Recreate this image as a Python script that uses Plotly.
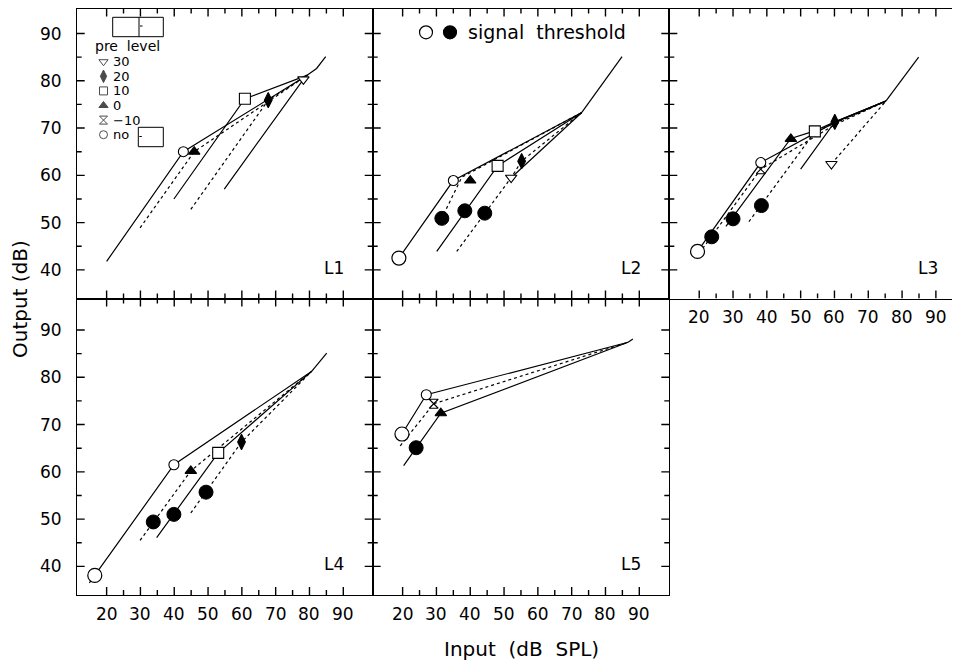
import plotly.graph_objects as go

W, H = 960, 664
OFF = 8.0   # the page body adds an 8 px margin; layout pixels below are screen pixels

# ---------------- data ----------------
PANELS = ["L1", "L2", "L3", "L4", "L5"]
PRE_ORDER = ["no", "-10", "0", "10", "20", "30"]          # order used for line styles
LEGEND_LEVELS = ["30", "20", "10", "0", "-10", "no"]      # legend order
X_TICKS = [20, 30, 40, 50, 60, 70, 80, 90]
X_MINOR = [25, 35, 45, 55, 65, 75, 85]
Y_TICKS = [40, 50, 60, 70, 80, 90]
Y_MINOR = [45, 55, 65, 75, 85]

# model input/output curves: pre level -> (input dB SPL, output dB)
L1_curves = {
    "no": ([20.0, 42.7, 79.4], [41.8, 65.0, 81.2]),
    "0":  ([29.9, 45.9, 79.4], [48.9, 65.0, 81.2]),
    "10": ([39.9, 60.9, 79.4], [55.0, 76.2, 81.2]),
    "20": ([44.9, 67.8, 79.4], [52.8, 75.9, 81.2]),
    "30": ([54.8, 78.2, 79.4], [57.1, 80.3, 81.2]),
}
L1_tail = ([79.4, 82.1, 84.8], [81.2, 82.6, 85.1])
L1_points = {"no": (42.7, 65.0), "0": (45.9, 65.0), "10": (60.9, 76.2),
             "20": (67.8, 75.9), "30": (78.2, 80.3)}
L1_thr_open = ([], [])
L1_thr_filled = ([], [])

L2_curves = {
    "no": ([18.9, 35.0, 73.0], [42.5, 58.9, 73.3]),
    "0":  ([30.6, 37.5, 73.0], [49.5, 59.6, 73.3]),
    "10": ([30.1, 48.1, 73.0], [43.9, 62.0, 73.3]),
    "20": ([36.0, 52.1, 55.2, 73.0], [43.9, 59.5, 63.0, 73.3]),
    "30": ([52.1, 73.0], [59.5, 73.3]),
}
L2_tail = ([73.0, 84.9], [73.3, 85.1])
L2_points = {"no": (35.0, 58.9), "0": (40.0, 58.9), "10": (48.1, 62.0),
             "20": (55.2, 63.0), "30": (52.1, 59.5)}
L2_thr_open = ([18.9], [42.5])
L2_thr_filled = ([31.6, 38.4, 44.3], [50.9, 52.5, 52.0])

L3_curves = {
    "no":  ([19.5, 38.2, 60.1, 75.2], [43.9, 62.7, 71.2, 75.7]),
    "-10": ([21.0, 38.2, 60.1, 75.2], [44.5, 61.3, 70.7, 75.7]),
    "0":   ([27.9, 47.1, 54.2, 60.1, 75.2], [49.2, 67.8, 69.4, 71.3, 75.7]),
    "10":  ([34.7, 54.2, 75.2], [50.2, 69.2, 75.7]),
    "20":  ([50.0, 60.1, 75.2], [61.3, 71.3, 75.7]),
    "30":  ([59.1, 75.2], [62.4, 75.7]),
}
L3_tail = ([75.2, 84.9], [75.7, 85.0])
L3_points = {"no": (38.2, 62.7), "-10": (38.2, 61.3), "0": (47.1, 67.7),
             "10": (54.2, 69.3), "20": (60.1, 71.3), "30": (59.1, 62.4)}
L3_thr_open = ([19.5], [43.9])
L3_thr_filled = ([23.7, 30.0, 38.4], [47.0, 50.8, 53.6])

L4_curves = {
    "no": ([14.9, 39.9, 80.7], [36.5, 61.5, 81.3]),
    "0":  ([29.9, 44.9, 80.7], [45.5, 60.2, 81.3]),
    "10": ([34.8, 53.0, 80.7], [46.1, 64.0, 81.3]),
    "20": ([44.9, 59.9, 80.7], [51.3, 66.3, 81.3]),
}
L4_tail = ([80.7, 81.6, 85.1], [81.3, 82.1, 85.1])
L4_points = {"no": (39.9, 61.5), "0": (44.9, 60.2), "10": (53.0, 64.0),
             "20": (59.9, 66.3)}
L4_thr_open = ([16.5], [38.1])
L4_thr_filled = ([33.8, 39.9, 49.4], [49.4, 51.0, 55.7])

L5_curves = {
    "no":  ([19.8, 27.0, 86.7], [68.0, 76.3, 87.4]),
    "-10": ([19.3, 29.2, 86.7], [65.5, 74.4, 87.4]),
    "0":   ([20.3, 31.3, 86.7], [61.3, 72.4, 87.4]),
}
L5_tail = ([86.7, 88.1], [87.4, 88.1])
L5_points = {"no": (27.0, 76.3), "-10": (29.2, 74.4), "0": (31.3, 72.4)}
L5_thr_open = ([19.8], [68.0])
L5_thr_filled = ([24.0], [65.1])

# ---------------- styling / layout ----------------
FONT = "DejaVu Sans"
SYMBOL = {"30": "triangle-down", "20": "diamond-tall", "10": "square",
          "0": "triangle-up", "-10": "hourglass", "no": "circle"}
FILLED = {"30": False, "20": True, "10": False, "0": True, "-10": False, "no": False}
MSIZE = {"30": 10, "20": 11, "10": 11, "0": 10, "-10": 9, "no": 10}
DASH = "3px,3px"

# panel frames in screen pixels
XD = [(76.7, 372.7), (372.7, 669.3), (669.3, 960.0), (76.7, 372.7), (372.7, 669.3)]
YD = [(8.5, 298.5), (8.5, 298.5), (8.5, 298.5), (298.5, 595.0), (298.5, 595.0)]
PX_PER_X = 3.381
PX_PER_Y = 4.728
X0 = 11.15
Y0 = 33.95
MAJOR_LEN, MINOR_LEN, TICK_W = 8.0, 5.0, 1.4
X_LABEL_PANELS = (2, 3, 4)
Y_LABEL_PANELS = (0, 3)
Y_LABEL_RIGHT = 64.0          # screen x of the right edge of y tick labels
X_LABEL_GAP = 18.8            # screen px from panel bottom to x tick label centre


def fx(p):  # screen x pixel -> paper fraction
    return (p - OFF) / W


def fy(p):  # screen y pixel -> paper fraction (from bottom)
    return 1 - (p - OFF) / H


def px2x(panel, p):  # screen x pixel -> data x in a panel
    return X0 + (p - XD[panel][0]) / PX_PER_X


def py2y(panel, p):  # screen y pixel -> data y in a panel
    return Y0 + (YD[panel][1] - p) / PX_PER_Y


panel_data = [
    (L1_curves, L1_tail, L1_points, L1_thr_open, L1_thr_filled),
    (L2_curves, L2_tail, L2_points, L2_thr_open, L2_thr_filled),
    (L3_curves, L3_tail, L3_points, L3_thr_open, L3_thr_filled),
    (L4_curves, L4_tail, L4_points, L4_thr_open, L4_thr_filled),
    (L5_curves, L5_tail, L5_points, L5_thr_open, L5_thr_filled),
]

fig = go.Figure()
line_w = 1.2
annotations = []
shapes = []
layout_axes = {}
lab_font = dict(family=FONT, size=17, color="black")

for i in range(5):
    x0, x1 = XD[i]
    y0, y1 = YD[i]
    wpx, hpx = x1 - x0, y1 - y0
    xname = "xaxis" if i == 0 else f"xaxis{i+1}"
    yname = "yaxis" if i == 0 else f"yaxis{i+1}"
    xa = "x" if i == 0 else f"x{i+1}"
    ya = "y" if i == 0 else f"y{i+1}"
    xr = [X0, X0 + wpx / PX_PER_X]
    yr = [Y0, Y0 + hpx / PX_PER_Y]
    common = dict(showline=True, linecolor="black", linewidth=1.4, mirror=True,
                  ticks="", showticklabels=False, showgrid=False, zeroline=False,
                  fixedrange=True)
    layout_axes[xname] = dict(common, domain=[fx(x0), min(1.0, fx(x1))], range=xr,
                              anchor=ya)
    layout_axes[yname] = dict(common, domain=[fy(y1), min(1.0, fy(y0))], range=yr,
                              anchor=xa)

    # inward tick marks on all four sides, drawn as one line trace per panel
    tx, ty = [], []
    for vals, ln in ((X_TICKS, MAJOR_LEN), (X_MINOR, MINOR_LEN)):
        dy = ln / PX_PER_Y
        for v in vals:
            tx += [v, v, None, v, v, None]
            ty += [yr[0], yr[0] + dy, None, yr[1], yr[1] - dy, None]
    for vals, ln in ((Y_TICKS, MAJOR_LEN), (Y_MINOR, MINOR_LEN)):
        dx = ln / PX_PER_X
        for v in vals:
            tx += [xr[0], xr[0] + dx, None, xr[1], xr[1] - dx, None]
            ty += [v, v, None, v, v, None]
    fig.add_trace(go.Scatter(x=tx, y=ty, mode="lines", xaxis=xa, yaxis=ya,
                             showlegend=False, hoverinfo="skip", connectgaps=False,
                             line=dict(color="black", width=TICK_W)))

    # tick labels
    if i in X_LABEL_PANELS:
        for v in X_TICKS:
            annotations.append(dict(x=v, y=fy(y1 + X_LABEL_GAP), xref=xa, yref="paper",
                                    text=str(v), showarrow=False, xanchor="center",
                                    yanchor="middle", font=lab_font))
    if i in Y_LABEL_PANELS:
        for v in Y_TICKS:
            annotations.append(dict(x=fx(Y_LABEL_RIGHT), y=v, xref="paper", yref=ya,
                                    text=str(v), showarrow=False, xanchor="right",
                                    yanchor="middle", font=lab_font))

for i, (curves, tail, points, thr_open, thr_filled) in enumerate(panel_data):
    xa = "x" if i == 0 else f"x{i+1}"
    ya = "y" if i == 0 else f"y{i+1}"
    present = [p for p in PRE_ORDER if p in curves]
    for k, lvl in enumerate(present):
        xs, ys = curves[lvl]
        fig.add_trace(go.Scatter(
            x=xs, y=ys, mode="lines", xaxis=xa, yaxis=ya, showlegend=False,
            line=dict(color="black", width=line_w, dash=None if k % 2 == 0 else DASH),
            hoverinfo="skip"))
    fig.add_trace(go.Scatter(x=tail[0], y=tail[1], mode="lines", xaxis=xa, yaxis=ya,
                             showlegend=False, line=dict(color="black", width=line_w),
                             hoverinfo="skip"))
    if thr_open[0]:
        fig.add_trace(go.Scatter(x=thr_open[0], y=thr_open[1], mode="markers",
                                 xaxis=xa, yaxis=ya, showlegend=False,
                                 marker=dict(symbol="circle", size=14, color="white",
                                             line=dict(color="black", width=1.2))))
    if thr_filled[0]:
        fig.add_trace(go.Scatter(x=thr_filled[0], y=thr_filled[1], mode="markers",
                                 xaxis=xa, yaxis=ya, showlegend=False,
                                 marker=dict(symbol="circle", size=14, color="black",
                                             line=dict(color="black", width=1))))
    for lvl in present[::-1]:
        px, py = points[lvl]
        fig.add_trace(go.Scatter(
            x=[px], y=[py], mode="markers", xaxis=xa, yaxis=ya, showlegend=False,
            marker=dict(symbol=SYMBOL[lvl], size=MSIZE[lvl],
                        color="black" if FILLED[lvl] else "white",
                        line=dict(color="black", width=1.1))))

# pre-level key inside panel L1 (positions in screen pixels)
LEG_SYM_X = 103.5
LEG_TXT_X = 111.0
LEG_Y0, LEG_DY = 61.7, 14.6
leg_y = [LEG_Y0 + k * LEG_DY for k in range(len(LEGEND_LEVELS))]
fig.add_trace(go.Scatter(
    x=[px2x(0, LEG_SYM_X)] * len(LEGEND_LEVELS), y=[py2y(0, v) for v in leg_y],
    mode="markers", xaxis="x", yaxis="y",
    showlegend=False, hoverinfo="skip", cliponaxis=False,
    marker=dict(symbol=[SYMBOL[l] for l in LEGEND_LEVELS],
                size=[8 if l != "20" else 9 for l in LEGEND_LEVELS],
                color=["black" if FILLED[l] else "white" for l in LEGEND_LEVELS],
                line=dict(color="black", width=1))))
for lvl, yy in zip(LEGEND_LEVELS, leg_y):
    annotations.append(dict(x=fx(LEG_TXT_X), y=fy(yy), xref="paper", yref="paper",
                            text=lvl.replace("-", "\u2212"), showarrow=False,
                            xanchor="left", yanchor="middle",
                            font=dict(family=FONT, size=13, color="black")))
annotations.append(dict(x=fx(127.5), y=fy(46.5), xref="paper", yref="paper",
                        text="pre  level", showarrow=False, xanchor="center",
                        yanchor="middle", font=dict(family=FONT, size=14, color="black")))

# signal-threshold key inside panel L2
fig.add_trace(go.Scatter(
    x=[px2x(1, 426.0), px2x(1, 450.0)], y=[py2y(1, 32.3)] * 2, mode="markers",
    xaxis="x2", yaxis="y2", showlegend=False, hoverinfo="skip", cliponaxis=False,
    marker=dict(symbol="circle", size=13, color=["white", "black"],
                line=dict(color="black", width=1.2))))
annotations.append(dict(x=fx(466.0), y=fy(32.3), xref="paper", yref="paper",
                        text="signal  threshold", showarrow=False, xanchor="left",
                        yanchor="middle", font=dict(family=FONT, size=19, color="black")))

# panel labels
for i, name in enumerate(PANELS):
    xa = "x" if i == 0 else f"x{i+1}"
    ya = "y" if i == 0 else f"y{i+1}"
    annotations.append(dict(x=0.87 if i != 2 else 0.89, y=0.105, xref=f"{xa} domain",
                            yref=f"{ya} domain", text=name, showarrow=False,
                            xanchor="center", yanchor="middle",
                            font=dict(family=FONT, size=17, color="black")))

# axis titles
annotations.append(dict(x=fx(20), y=fy(299), xref="paper", yref="paper",
                        text="Output (dB)", showarrow=False, textangle=-90,
                        xanchor="center", yanchor="middle",
                        font=dict(family=FONT, size=20, color="black")))
annotations.append(dict(x=fx(521), y=fy(649), xref="paper", yref="paper",
                        text="Input  (dB  SPL)", showarrow=False, xanchor="center",
                        yanchor="middle", font=dict(family=FONT, size=20, color="black")))

# leftover empty key boxes in L1
box_line = dict(color="black", width=1)
for (a, b, c, d) in [(112.7, 163.3, 17.3, 36.7), (138.3, 163.3, 127.3, 146.7)]:
    shapes.append(dict(type="rect", xref="paper", yref="paper", x0=fx(a), x1=fx(b),
                       y0=fy(d), y1=fy(c), line=box_line))
for (a, b, c, d) in [(139, 139, 17.3, 36.7), (140, 142.5, 26, 26),
                     (139.3, 141.8, 136.5, 136.5)]:
    shapes.append(dict(type="line", xref="paper", yref="paper", x0=fx(a), x1=fx(b),
                       y0=fy(c), y1=fy(d), line=box_line))

fig.update_layout(
    width=W, height=H, margin=dict(l=0, r=0, t=0, b=0, autoexpand=False),
    paper_bgcolor="white", plot_bgcolor="white",
    showlegend=False, annotations=annotations, shapes=shapes,
    font=dict(family=FONT, color="black"),
    **layout_axes)

fig.write_html("out.html")
